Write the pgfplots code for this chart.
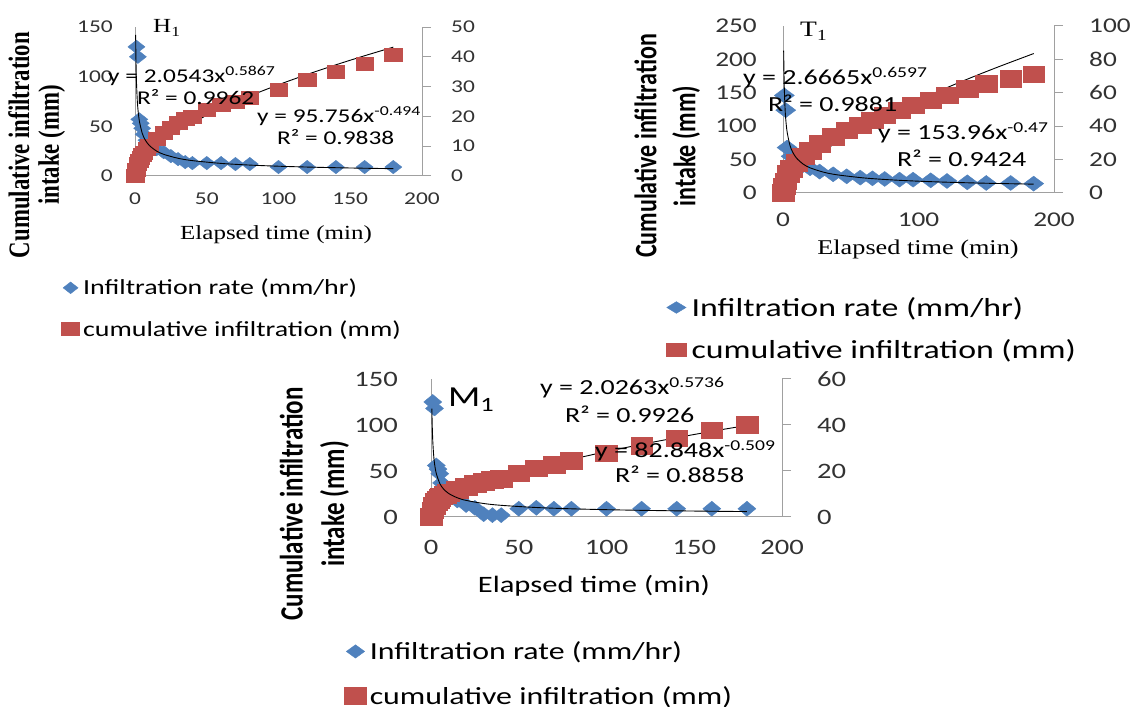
\documentclass[border=0pt]{standalone}
\usepackage{pgfplots}
\pgfplotsset{compat=1.18}
\usepackage{graphicx}
\usepackage{fontspec}
\setmainfont{Carlito}
\newfontfamily\calw[FakeStretch=1.3]{Carlito}
\newfontfamily\tnrw[FakeStretch=1.25]{Liberation Serif}
\newfontfamily\calup{Carlito}
\newfontfamily\tnrup{Liberation Serif}

\definecolor{ratecol}{RGB}{79,129,189}
\definecolor{cumcol}{RGB}{192,80,77}
\definecolor{axgray}{RGB}{160,160,160}
\definecolor{txt}{RGB}{50,50,50}

% font sizes per panel (1pt = 1px of the reference)
\newcommand\tkH{\calw\fontsize{18}{18}\selectfont}
\newcommand\tkT{\calw\fontsize{21}{21}\selectfont}
\newcommand\tkM{\calw\fontsize{22}{22}\selectfont}
\newcommand\eqH{\calw\fontsize{19.5}{20}\selectfont}
\newcommand\eqT{\calw\fontsize{21.5}{22}\selectfont}
\newcommand\eqM{\calw\fontsize{21.5}{22}\selectfont}
\newcommand\lgH{\calw\fontsize{21.5}{22}\selectfont}
\newcommand\lgT{\calw\fontsize{26}{26}\selectfont}
\newcommand\lgM{\calw\fontsize{24.5}{25}\selectfont}

\pgfplotsset{
  base/.style={scale only axis, anchor=south west, xmin=0, xmax=200, clip=false,
    axis line style={axgray, line width=1pt},
    ticklabel style={text=txt, inner sep=0pt},
    /pgf/number format/assume math mode=true},
  prim/.style={base, axis x line*=bottom, axis y line*=left,
    xtick style={draw=none}, ytick style={draw=none},
    xticklabel style={anchor=north}, yticklabel style={anchor=east}},
  sec/.style={base, axis x line=none, axis y line*=right,
    tick align=outside, major tick length=9pt,
    ytick style={axgray, line width=1pt},
    legend cell align=left,
    legend image code/.code={\path (0pt,0pt) (16pt,0pt); \draw[##1] plot coordinates {(8pt,0pt)};}},
  hid/.style={scale only axis, anchor=south west, xmin=0, xmax=200, clip=false, hide axis},
  rate/.style={only marks, mark=diamond*, color=ratecol, forget plot},
  cum/.style={only marks, mark=square*, color=cumcol, forget plot},
  fit/.style={black, line width=0.9pt, smooth, no markers, forget plot},
}

\begin{document}
\begin{tikzpicture}[x=1pt,y=1pt]
\path[use as bounding box] (0,0) rectangle (1136,707);

% ---------------- H1 ----------------
\begin{axis}[prim, at={(135pt,531pt)}, width=287pt, height=149pt,
  ymin=0, ymax=150, ytick={0,50,100,150}, xtick={0,50,100,150,200},
  ticklabel style={font=\tkH}, xticklabel shift=17pt, yticklabel shift=22pt]
\addplot[rate, mark size=6.7pt, mark options={xscale=1.7}] coordinates {
(1,130) (2,120) (3,57) (4,53) (5,48) (6,42) (8,36) (10,31) (15,27) (20,24)
(25,20) (30,17) (35,14) (40,13) (50,13) (60,13) (70,12) (80,12) (100,9)
(120,9) (140,9) (160,9) (180,9)};
\end{axis}
\begin{axis}[sec, at={(135pt,531pt)}, width=287pt, height=149pt,
  ymin=0, ymax=50, ytick={0,10,20,30,40,50},
  ticklabel style={font=\tkH}, yticklabel style={anchor=west, xshift=20pt},
  legend style={at={(axis description cs:-0.2666,-0.678)}, anchor=north west,
    draw=none, fill=none, font=\lgH, row sep=24pt,
    nodes={inner xsep=3.5pt, inner ysep=0pt}}]
\addplot[cum, mark size=6.5pt, mark options={xscale=1.35}] coordinates {
(0,0) (1,2) (2,4) (3,5) (4,6) (5,7) (6,7.8) (8,9) (10,10.2) (15,12.5) (20,14.5)
(25,16.2) (30,17.8) (35,19.2) (40,20) (50,22.3) (60,24) (70,25) (80,26.2)
(100,28.9) (120,32.2) (140,35) (160,37.8) (180,40.6)};
\addplot[fit] coordinates {
(0.45,1.29) (1,2.054) (2,3.085) (3,3.914) (5,5.28) (10,7.93) (15,10.06) (20,11.91)
(30,15.11) (40,17.89) (60,22.70) (80,26.87) (100,30.63) (120,34.08) (140,37.31)
(160,40.35) (180,43.24)};
\addlegendimage{only marks, mark=diamond*, mark size=5.85pt, mark options={xscale=1.71}, color=ratecol}
\addlegendentry{Infiltration rate (mm/hr)}
\addlegendimage{only marks, mark=square*, mark size=6.6pt, mark options={xscale=1.35}, color=cumcol}
\addlegendentry{cumulative infiltration (mm)}
\end{axis}
\begin{axis}[hid, at={(135pt,531pt)}, width=287pt, height=149pt, ymin=0, ymax=150]
\addplot[fit] coordinates {
(0.45,142.1) (0.5,134.8) (0.6,123.2) (0.7,114.2) (1,95.76) (1.5,78.38) (2,68.0)
(3,55.65) (5,43.24) (7,36.62) (10,30.70) (15,25.13) (20,21.80) (30,17.84)
(40,15.48) (60,12.67) (80,10.99) (100,9.85) (120,9.00) (140,8.34) (160,7.81)
(180,7.36)};
\end{axis}

% ---------------- T1 ----------------
\begin{axis}[prim, at={(783pt,514pt)}, width=271pt, height=167pt,
  ymin=0, ymax=250, ytick={0,50,100,150,200,250}, xtick={0,100,200},
  ticklabel style={font=\tkT}, xticklabel shift=20pt, yticklabel shift=26pt]
\addplot[rate, mark size=7.5pt, mark options={xscale=1.78}] coordinates {
(1,146) (2,124) (3,68) (6,55) (10,48) (15,42) (20,37) (27,32) (37,28) (47,25)
(57,23) (66,22) (75,21) (86,20) (96,20) (109,19) (121,18) (136,16) (150,15)
(168,15) (185,14)};
\end{axis}
\begin{axis}[sec, at={(783pt,514pt)}, width=271pt, height=167pt,
  ymin=0, ymax=100, ytick={0,20,40,60,80,100},
  ticklabel style={font=\tkT}, yticklabel style={anchor=west, xshift=26pt},
  legend image code/.code={\path (0pt,0pt) (20pt,0pt); \draw[#1] plot coordinates {(10pt,0pt)};},
  legend style={at={(axis description cs:-0.4428,-0.611)}, anchor=north west,
    draw=none, fill=none, font=\lgT, row sep=22pt,
    nodes={inner xsep=5pt, inner ysep=0pt}}]
\addplot[cum, mark size=8.35pt, mark options={xscale=1.3}] coordinates {
(0,0) (1,4) (2,7) (4,11.5) (6,14.5) (10,18) (15,22) (20,25.5) (27,29.5)
(37,33.6) (47,37.6) (57,40.6) (66,43.6) (75,46.6) (86,49.6) (96,52.6)
(109,55.6) (121,58.6) (136,62.6) (150,65.6) (168,68.6) (185,71.2)};
\addplot[fit] coordinates {
(0.45,1.575) (1,2.667) (2,4.213) (3,5.505) (5,7.710) (10,12.18) (20,19.24)
(30,25.14) (40,30.40) (60,39.72) (80,48.02) (100,55.63) (120,62.75)
(140,69.47) (160,75.86) (185,83.49)};
\addlegendimage{only marks, mark=diamond*, mark size=5.85pt, mark options={xscale=2.2}, color=ratecol}
\addlegendentry{Infiltration rate (mm/hr)}
\addlegendimage{only marks, mark=square*, mark size=6.67pt, mark options={xscale=1.5}, color=cumcol}
\addlegendentry{cumulative infiltration (mm)}
\end{axis}
\begin{axis}[hid, at={(783pt,514pt)}, width=271pt, height=167pt, ymin=0, ymax=250]
\addplot[fit] coordinates {
(0.5,213.2) (0.6,195.7) (0.7,182.1) (1,153.96) (1.5,127.2) (2,111.1) (3,91.87)
(5,72.25) (7,61.69) (10,52.16) (15,43.11) (20,37.66) (30,31.13) (40,27.19)
(60,22.48) (80,19.63) (100,17.67) (120,16.22) (140,15.09) (160,14.17)
(185,13.24)};
\end{axis}

% ---------------- M1 ----------------
\begin{axis}[prim, at={(431pt,190pt)}, width=351pt, height=138pt,
  ymin=0, ymax=150, ytick={0,50,100,150}, xtick={0,50,100,150,200},
  ticklabel style={font=\tkM}, xticklabel shift=23pt, yticklabel shift=33pt]
\addplot[rate, mark size=7.5pt, mark options={xscale=1.6}] coordinates {
(1,125) (2,118) (3,56) (4,52) (5,47) (6,37) (8,33) (10,25) (15,18) (20,13)
(25,10) (30,3) (35,2) (40,2) (50,9) (60,10) (70,9) (80,9) (100,9) (120,9)
(140,9) (160,9) (180,9)};
\end{axis}
\begin{axis}[sec, at={(431pt,190pt)}, width=351pt, height=138pt,
  ymin=0, ymax=60, ytick={0,20,40,60},
  ticklabel style={font=\tkM}, yticklabel style={anchor=west, xshift=26pt},
  legend image code/.code={\path (0pt,0pt) (18pt,0pt); \draw[#1] plot coordinates {(9pt,0pt)};},
  legend style={at={(axis description cs:-0.255,-0.888)}, anchor=north west,
    draw=none, fill=none, font=\lgM, row sep=25pt,
    nodes={inner xsep=3.5pt, inner ysep=0pt}}]
\addplot[cum, mark size=8.35pt, mark options={xscale=1.3}] coordinates {
(0,0) (1,3) (2,5) (3,6.5) (4,7.5) (5,8.3) (6,9) (8,9.8) (10,10.5) (15,12)
(20,13.3) (25,14.5) (30,15.4) (35,16.1) (40,16.8) (50,19) (60,21.2) (70,22.6)
(80,24.5) (100,27.7) (120,30.9) (140,34.2) (160,37.8) (180,40)};
\addplot[fit] coordinates {
(0.45,1.282) (1,2.026) (2,3.016) (3,3.805) (5,5.101) (10,7.591) (20,11.30)
(30,14.25) (40,16.82) (60,21.22) (80,25.02) (100,28.44) (120,31.58)
(140,34.49) (160,37.24) (180,39.84)};
\addlegendimage{only marks, mark=diamond*, mark size=6.67pt, mark options={xscale=1.83}, color=ratecol}
\addlegendentry{Infiltration rate (mm/hr)}
\addlegendimage{only marks, mark=square*, mark size=8.3pt, mark options={xscale=1.3}, color=cumcol}
\addlegendentry{cumulative infiltration (mm)}
\end{axis}
\begin{axis}[hid, at={(431pt,190pt)}, width=351pt, height=138pt, ymin=0, ymax=150]
\addplot[fit] coordinates {
(0.5,117.9) (0.6,107.4) (0.7,99.34) (1,82.85) (1.5,67.40) (2,58.22) (3,47.36)
(5,36.52) (7,30.77) (10,25.66) (15,20.88) (20,18.03) (30,14.67) (40,12.68)
(60,10.31) (80,8.905) (100,7.948) (120,7.243) (140,6.695) (160,6.256)
(180,5.892)};
\end{axis}

% ---------------- texts ----------------
% H1
\node[anchor=base west, inner sep=0pt] at (153,674) {\tnrw\fontsize{20}{20}\selectfont H\textsubscript{1}};
\node[anchor=base west, inner sep=0pt] at (108,624) {\eqH y = 2.0543x\textsuperscript{0.5867}};
\node[anchor=base west, inner sep=0pt] at (137,602) {\eqH R² = 0.9962};
\node[anchor=base west, inner sep=0pt] at (257,584) {\eqH y = 95.756x\textsuperscript{-0.494}};
\node[anchor=base west, inner sep=0pt] at (277,562) {\eqH R² = 0.9838};
\node[anchor=base, inner sep=0pt] at (276,467) {\tnrw\fontsize{20}{20}\selectfont Elapsed time (min)};
\node[rotate=90, inner sep=0pt] at (38,562) {\scalebox{1}[1.3]{\tnrup\bfseries\fontsize{22.8}{23}\selectfont
  \begin{tabular}{@{}c@{}}Cumulative infiltration\\intake (mm)\end{tabular}}};
% T1
\node[anchor=base west, inner sep=0pt] at (800,670) {\tnrw\fontsize{22}{22}\selectfont T\textsubscript{1}};
\node[anchor=base west, inner sep=0pt] at (743,622) {\eqT y = 2.6665x\textsuperscript{0.6597}};
\node[anchor=base west, inner sep=0pt] at (768,595) {\eqT R² = 0.9881};
\node[anchor=base west, inner sep=0pt] at (878,567) {\eqT y = 153.96x\textsuperscript{-0.47}};
\node[anchor=base west, inner sep=0pt] at (897,540) {\eqT R² = 0.9424};
\node[anchor=base, inner sep=0pt] at (918,452) {\tnrw\fontsize{21}{21}\selectfont Elapsed time (min)};
\node[rotate=90, inner sep=0pt] at (668,561) {\scalebox{1}[1.3]{\calup\bfseries\fontsize{24}{30}\selectfont
  \begin{tabular}{@{}c@{}}Cumulative infiltration\\intake (mm)\end{tabular}}};
% M1
\node[anchor=base west, inner sep=0pt] at (448,300) {\calw\fontsize{29}{29}\selectfont M\textsubscript{1}};
\node[anchor=base west, inner sep=0pt] at (540,312) {\eqM y = 2.0263x\textsuperscript{0.5736}};
\node[anchor=base west, inner sep=0pt] at (565,284) {\eqM R² = 0.9926};
\node[anchor=base west, inner sep=0pt] at (595,249) {\eqM y = 82.848x\textsuperscript{-0.509}};
\node[anchor=base west, inner sep=0pt] at (615,224) {\eqM R² = 0.8858};
\node[anchor=base, inner sep=0pt] at (594,114) {\calw\fontsize{23.5}{24}\selectfont Elapsed time (min)};
\node[rotate=90, inner sep=0pt] at (315,203) {\scalebox{1}[1.3]{\calup\bfseries\fontsize{25}{32}\selectfont
  \begin{tabular}{@{}c@{}}Cumulative infiltration\\intake (mm)\end{tabular}}};
\end{tikzpicture}
\end{document}
